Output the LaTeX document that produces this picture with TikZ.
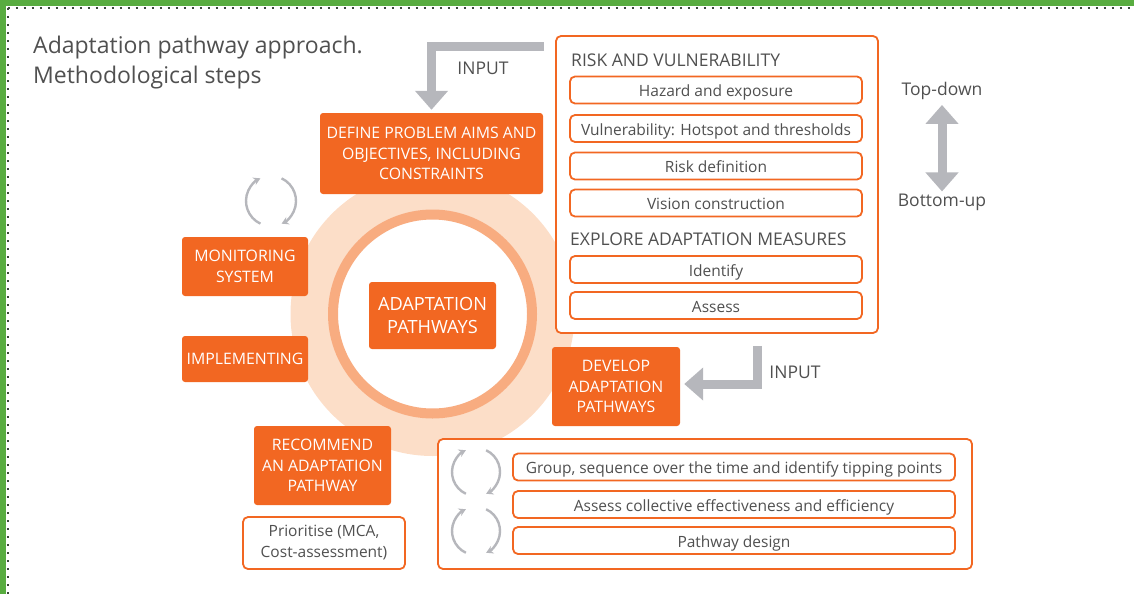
\documentclass[tikz,border=0pt]{standalone}
\usepackage{fontspec}
\setmainfont{Open Sans}
\usetikzlibrary{arrows.meta,positioning,calc}
\definecolor{apOrange}{RGB}{242,103,34}
\definecolor{apRing}{RGB}{248,172,128}
\definecolor{apPeach}{RGB}{252,222,200}
\definecolor{apGrey}{RGB}{182,183,188}
\definecolor{apText}{RGB}{80,80,80}
\definecolor{apGreen}{RGB}{88,172,64}
\definecolor{apDot}{RGB}{60,72,60}

\tikzset{
  stepbox/.style={fill=apOrange, rounded corners=3pt, text=white, align=center, font=\fontsize{15.8}{20.5}\selectfont, inner sep=2pt},
  subbox/.style={draw=apOrange, line width=1.8pt, rounded corners=5pt, fill=white, text=apText, font=\fontsize{15.5}{18}\selectfont, minimum height=27pt, inner sep=0pt, text height=14.5pt, text depth=1.5pt},
  notebox/.style={draw=apOrange, line width=1.8pt, rounded corners=5pt, fill=white, text=apText, align=center, font=\fontsize{15.5}{21}\selectfont, inner sep=0pt},
  panel/.style={draw=apOrange, line width=1.8pt, rounded corners=5pt, fill=white, inner sep=0pt},
  heading/.style={text=apText, font=\fontsize{17.5}{20}\selectfont, inner sep=0pt},
  inputarrow/.style={draw=apGrey, line width=9pt, -{Triangle[length=19pt,width=32pt]}},
  cyclearrow/.style={draw=apGrey, line width=2.4pt, -{Stealth[length=7pt,width=8pt]}},
}

\begin{document}
\begin{tikzpicture}[x=1pt,y=-1pt]
    \useasboundingbox (0,0) rectangle (1134,594);

    % Frame
    \fill[apGreen] (0,0) rectangle (1134,6.5);
    \fill[apGreen] (0,0) rectangle (6,594);
    \draw[apDot, line width=2pt, dash pattern=on 2pt off 6pt] (7.5,8) -- (1134,8);
    \draw[apDot, line width=2pt, dash pattern=on 2pt off 6pt] (7.5,8) -- (7.5,594);

    % Title
    \node[anchor=base west, align=left, text=apText, font=\fontsize{23}{30}\selectfont, inner sep=0pt] (title) at (33,83) {Adaptation pathway approach.\\Methodological steps};

    % Circle
    \fill[apPeach] (432.5,314) circle[radius=142];
    \fill[white] (432.5,314) circle[radius=104];
    \draw[apRing, line width=10pt] (432.5,314) circle[radius=99.5];

    % Central box
    \node[stepbox, minimum width=127pt, minimum height=67pt, font=\fontsize{18.2}{23}\selectfont] (pathways) at (432.5,315.5) {ADAPTATION\\PATHWAYS};

    % Steps
    \node[stepbox, minimum width=223pt, minimum height=81pt] (define) at (431.5,153.5) {DEFINE PROBLEM AIMS AND\\OBJECTIVES, INCLUDING\\CONSTRAINTS};
    \node[stepbox, minimum width=126pt, minimum height=59pt] (monitor) at (245,266.5) {MONITORING\\SYSTEM};
    \node[stepbox, minimum width=126pt, minimum height=46pt] (implement) at (245,359) {IMPLEMENTING};
    \node[stepbox, minimum width=128pt, minimum height=79pt] (develop) at (616,386.5) {DEVELOP\\ADAPTATION\\PATHWAYS};
    \node[stepbox, minimum width=137pt, minimum height=79pt] (recommend) at (322.5,465.5) {RECOMMEND\\AN ADAPTATION\\PATHWAY};
    \node[notebox, minimum width=162pt, minimum height=52pt] (prioritise) at (324,543) {Prioritise (MCA,\\Cost-assessment)};

    % Risk panel
    \node[panel, minimum width=322pt, minimum height=297pt] (riskpanel) at (717,184.5) {};
    \node[heading, anchor=base west] (riskhead) at (571,66.5) {RISK AND VULNERABILITY};
    \node[subbox, minimum width=292pt] (hazard) at (716,90) {Hazard and exposure};
    \node[subbox, minimum width=292pt] (vuln) at (716,128.5) {Vulnerability: Hotspot and thresholds};
    \node[subbox, minimum width=292pt] (riskdef) at (716,166) {Risk definition};
    \node[subbox, minimum width=292pt] (vision) at (716,203) {Vision construction};
    \node[heading, anchor=base west] (explorehead) at (570,245.5) {EXPLORE ADAPTATION MEASURES};
    \node[subbox, minimum width=292pt] (identify) at (716,269.5) {Identify};
    \node[subbox, minimum width=292pt] (assess) at (716,305.5) {Assess};

    % Pathway panel
    \node[panel, minimum width=534pt, minimum height=130pt] (designpanel) at (705,504) {};
    \node[subbox, minimum width=442pt] (group) at (734,467) {Group, sequence over the time and identify tipping points};
    \node[subbox, minimum width=442pt] (collective) at (734,504.5) {Assess collective effectiveness and efficiency};
    \node[subbox, minimum width=442pt] (design) at (734,540.5) {Pathway design};

    % Cycles
    \draw[cyclearrow] (271,201) ++(115:25) arc[start angle=115, end angle=245, radius=25];
    \draw[cyclearrow] (271,201) ++(-65:25) arc[start angle=-65, end angle=65, radius=25];
    \draw[cyclearrow] (476,472) ++(115:24) arc[start angle=115, end angle=245, radius=24];
    \draw[cyclearrow] (476,472) ++(-65:24) arc[start angle=-65, end angle=65, radius=24];
    \draw[cyclearrow] (476,531) ++(115:24) arc[start angle=115, end angle=245, radius=24];
    \draw[cyclearrow] (476,531) ++(-65:24) arc[start angle=-65, end angle=65, radius=24];

    % Inputs
    \draw[inputarrow, shorten >=3pt] ([xshift=-11pt,yshift=-11.5pt]riskpanel.north west) -| (define.north);
    \node[heading] (input1) at (483,68) {INPUT};
    \draw[inputarrow, shorten >=4pt] ([xshift=40.5pt,yshift=-12pt]riskpanel.south) |- ([yshift=2.5pt]develop.east);
    \node[heading] (input2) at (795,372) {INPUT};

    % Top-down / bottom-up
    \node[heading] (topdown) at (942,91) {Top-down};
    \node[heading] (bottomup) at (942,202) {Bottom-up};
    \draw[draw=apGrey, line width=9pt, {Triangle[length=19pt,width=32pt]}-{Triangle[length=19pt,width=32pt]}, shorten <=5pt, shorten >=2pt] (topdown) -- (bottomup);
\end{tikzpicture}
\end{document}
